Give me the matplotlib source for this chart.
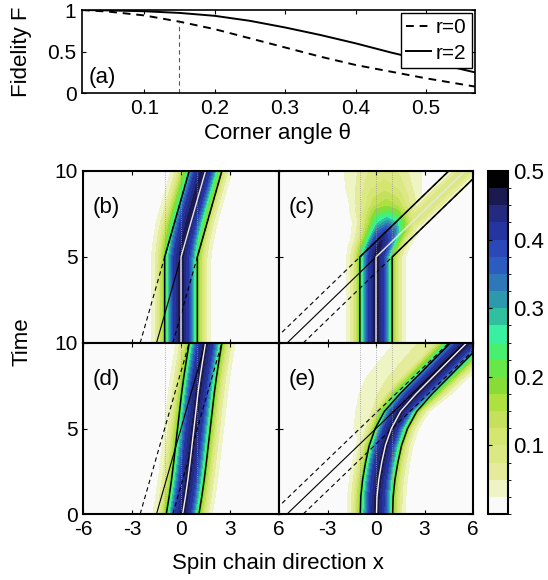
import numpy as np
import matplotlib
matplotlib.use('Agg')
import matplotlib.pyplot as plt
from matplotlib.colors import ListedColormap, BoundaryNorm

plt.rcParams['font.family'] = ['Liberation Sans', 'DejaVu Sans']
plt.rcParams['font.size'] = 15

W, H = 548, 580

# --- (a) fidelity vs corner angle --- #
theta = [0.0116, 0.05, 0.1, 0.15, 0.2, 0.25, 0.3, 0.35, 0.4, 0.45, 0.5, 0.57]
fid_r0 = [1.0, 0.98, 0.935, 0.86, 0.77, 0.66, 0.55, 0.44, 0.34, 0.26, 0.18, 0.08]
fid_r2 = [1.0, 0.995, 0.985, 0.965, 0.93, 0.87, 0.79, 0.70, 0.60, 0.49, 0.39, 0.25]
theta_mark = 0.15

# --- contour levels / colours (0 -> 0.5) --- #
levels = np.arange(0, 0.5001, 0.025)
level_colors = ['#fafafa', '#eef4c4', '#e4ec9c', '#dce884', '#d4e670', '#c4e05c',
                '#aee040', '#88dc38', '#68e848', '#48f070', '#38f0a0', '#30c0a0',
                '#2e98ac', '#2e78b8', '#2c5cc0', '#2a48b8', '#2535a0', '#232a80',
                '#1a1a50', '#000000']
cbar_ticks = [0.1, 0.2, 0.3, 0.4, 0.5]

# --- packet cross-section: distance/width -> relative density --- #
prof_u = [0, 0.5, 1.0, 1.5, 1.8, 2.2, 3.0]
prof_p = [1, 0.85, 0.47, 0.17, 0.08, 0.02, 0]

# --- guide lines --- #
offsets = [-1, 1]
dotted_x = [-1, 0, 1]
t_corner = 5
slope_small = 0.3   # panels (b), (d)
slope_large = 1.1   # panels (c), (e)

# --- (b) sharp corner, small angle --- #
b_ct = [0, 4.5, 5, 5.5, 6, 7, 8, 9, 10]
b_cx = [0, 0, 0.02, 0.1, 0.2, 0.45, 0.75, 1.05, 1.35]
b_at = [0, 10]
b_av = [0.47, 0.47]
b_wt = [0, 5, 7, 10]
b_wl = [0.92, 0.92, 1.0, 1.0]
b_wr = [0.92, 0.92, 0.9, 0.9]

# --- (c) sharp corner, large angle: core stays, weak part follows diagonal --- #
c_ct = [0, 5, 5.5, 6, 6.5, 7, 8, 10]
c_cx = [0, 0, 0.15, 0.38, 0.6, 0.72, 0.65, 0.45]
c_at = [0, 5, 5.5, 6, 6.5, 7, 7.5, 8, 9, 10]
c_av = [0.47, 0.47, 0.47, 0.45, 0.4, 0.32, 0.24, 0.17, 0.115, 0.085]
c_wt = [0, 5, 6, 7, 8, 9, 10]
c_wl = [0.92, 0.92, 1.0, 1.2, 1.45, 1.7, 1.85]
c_wr = [0.92, 0.92, 1.0, 1.2, 1.4, 1.6, 1.8]
c_dt = [5, 10]
c_dx = [0, 5.5]
c_dat = [0, 5, 6, 7, 10]
c_dav = [0, 0, 0.06, 0.09, 0.09]
c_dw = 0.8

# --- (d) smooth corner, small angle --- #
d_ct = [0, 1, 2, 3, 4, 5, 6, 7, 8, 9, 10]
d_cx = [0.1, 0.27, 0.42, 0.55, 0.67, 0.79, 0.91, 1.03, 1.17, 1.33, 1.5]
d_at = [0, 10]
d_av = [0.47, 0.47]
d_wt = [0, 10]
d_wl = [0.92, 0.92]
d_wr = [0.92, 0.92]

# --- (e) smooth corner, large angle --- #
e_ct = [0, 1, 2, 3, 4, 5, 6, 7, 8, 9, 10]
e_cx = [0.03, 0.06, 0.17, 0.35, 0.58, 0.95, 1.52, 2.45, 3.5, 4.55, 5.6]
e_at = [0, 10]
e_av = [0.47, 0.47]
e_wt = [0, 5, 6, 7, 10]
e_wl = [0.92, 0.92, 1.05, 1.2, 1.25]
e_wr = [0.92, 0.85, 0.9, 1.1, 1.2]
e_hat = [0, 3, 5, 7, 10]
e_hav = [0, 0.02, 0.07, 0.09, 0.09]
e_hwt = [0, 4, 6, 8, 10]
e_hwl = [1.3, 1.7, 2.2, 3.1, 3.4]
e_hwr = [1.0, 1.0, 1.0, 1.2, 1.2]

x = np.linspace(-6, 6, 361)
t = np.linspace(0, 10, 301)
X, T = np.meshgrid(x, t)


def tube(ct, cx, at, av, wt, wl, wr):
    xc = np.interp(t, ct, cx)[:, None]
    amp = np.interp(t, at, av)[:, None]
    left = np.interp(t, wt, wl)[:, None]
    right = np.interp(t, wt, wr)[:, None]
    d = X - xc
    w = np.where(d < 0, left, right)
    return amp * np.interp(np.abs(d) / w, prof_u, prof_p)


field_b = tube(b_ct, b_cx, b_at, b_av, b_wt, b_wl, b_wr)
field_c = np.maximum(tube(c_ct, c_cx, c_at, c_av, c_wt, c_wl, c_wr),
                     tube(c_dt, c_dx, c_dat, c_dav, [0, 10], [c_dw, c_dw], [c_dw, c_dw])
                     * (T >= t_corner))
field_d = tube(d_ct, d_cx, d_at, d_av, d_wt, d_wl, d_wr)
field_e = np.maximum(tube(e_ct, e_cx, e_at, e_av, e_wt, e_wl, e_wr),
                     tube(e_ct, e_cx, e_hat, e_hav, e_hwt, e_hwl, e_hwr))


def px(l, t_, r, b):
    return [l / W, 1 - b / H, (r - l) / W, (b - t_) / H]


def style_axes(ax, lw=1.5):
    for s in ax.spines.values():
        s.set_linewidth(lw)
    ax.tick_params(direction='in', length=3, width=0.8, top=True, right=True, labelsize=15, pad=4)


fig = plt.figure(figsize=(W / 100, H / 100), dpi=100)

# --- Plot (a) --- #
ax_a = fig.add_axes(px(82, 10, 475, 93.3))
ax_a.plot(theta, fid_r0, 'k--', lw=1.4, dashes=(4, 3), label='r=0')
ax_a.plot(theta, fid_r2, 'k-', lw=1.4, label='r=2')
ax_a.plot([theta_mark, theta_mark], [0, np.interp(theta_mark, theta, fid_r0)],
          color='0.35', ls='--', lw=0.8, dashes=(4, 3))
ax_a.set_xlim(theta[0], 0.5695)
ax_a.set_ylim(0, 1)
ax_a.set_xticks([0.1, 0.2, 0.3, 0.4, 0.5])
ax_a.set_yticks([0, 0.5, 1])
ax_a.set_yticklabels(['0', '0.5', '1'])
style_axes(ax_a, 1.2)
leg = ax_a.legend(loc='upper right', fontsize=15, handlelength=1.2, handletextpad=0.25,
                  borderpad=0.25, labelspacing=0.3, fancybox=False, framealpha=1,
                  borderaxespad=0.15)
leg.get_frame().set_edgecolor('k')
leg.get_frame().set_linewidth(1.0)
ax_a.text(0.018, 0.06, '(a)', transform=ax_a.transAxes, fontsize=16, va='bottom')

# --- Plot contour panels --- #
cmap = ListedColormap(level_colors)
norm = BoundaryNorm(levels, cmap.N)

panels = [
    ('(b)', field_b, px(83, 171, 279, 343), slope_small, True, None),
    ('(c)', field_c, px(279, 171, 473, 343), slope_large, True, None),
    ('(d)', field_d, px(83, 343, 279, 514), slope_small, False, (d_ct, d_cx)),
    ('(e)', field_e, px(279, 343, 473, 514), slope_large, False, (e_ct, e_cx)),
]

t_line = np.array([0, 10.0])
axes = []
for label, field, pos, slope, sharp, path in panels:
    ax = fig.add_axes(pos)
    cs = ax.contourf(X, T, field, levels=levels, cmap=cmap, norm=norm)
    for xd in dotted_x:
        ax.axvline(xd, color='0.6', lw=0.6, ls=':')
    # asymptotes of the outgoing straight channel
    for off in offsets:
        ax.plot(off + slope * (t_line - t_corner), t_line, 'k--', lw=0.8, dashes=(4, 3))
    if sharp:
        tt = np.array([0, t_corner, 10.0])
        ax.plot([-slope * t_corner, 0], [0, t_corner], 'k-', lw=0.8)
        for off in offsets:
            ax.plot(off + np.where(tt > t_corner, slope * (tt - t_corner), 0), tt, 'k-', lw=1.1)
        ax.plot(np.where(tt > t_corner, slope * (tt - t_corner), 0), tt, color='0.9', lw=1.0)
    else:
        ct, cx = path
        ax.plot(slope * (t_line - t_corner), t_line, 'k-', lw=0.8)
        for off in offsets:
            ax.plot(np.array(cx) + off, ct, 'k-', lw=1.1)
        ax.plot(cx, ct, color='0.95', lw=1.0)
    ax.set_xlim(-6, 6)
    ax.set_ylim(0, 10)
    ax.set_xticks([-6, -3, 0, 3, 6])
    ax.set_yticks([0, 5, 10])
    style_axes(ax)
    ax.text(0.05, 0.785, label, transform=ax.transAxes, fontsize=16, va='center')
    axes.append(ax)

ax_b, ax_c, ax_d, ax_e = axes
ax_b.set_xticklabels([])
ax_c.set_xticklabels([])
ax_c.set_yticklabels([])
ax_e.set_yticklabels([])
ax_b.set_yticklabels(['', '5', '10'])
ax_d.set_yticklabels(['0', '5', '10'])
ax_d.set_xticklabels(['-6', '-3', '0', '3', '6'])
ax_e.set_xticklabels(['', '-3', '0', '3', '6'])

# --- Colorbar --- #
cax = fig.add_axes(px(488, 171, 508, 514))
cb = fig.colorbar(cs, cax=cax, ticks=cbar_ticks)
cb.ax.set_yticklabels(['0.1', '0.2', '0.3', '0.4', '0.5'])
cb.outline.set_linewidth(1.5)
cb.ax.tick_params(direction='in', length=3, left=True, right=False, labelsize=16, pad=4)

# --- Labels --- #
fig.text(22 / W, 1 - 52 / H, 'Fidelity F', rotation=90, ha='center', va='center', fontsize=16)
fig.text(278 / W, 1 - 134 / H, 'Corner angle θ', ha='center', va='center', fontsize=16)
fig.text(22 / W, 1 - 342 / H, 'Time', rotation=90, ha='center', va='center', fontsize=16)
fig.text(278 / W, 1 - 563 / H, 'Spin chain direction x', ha='center', va='center', fontsize=16)

fig.savefig('out.png', dpi=100)
